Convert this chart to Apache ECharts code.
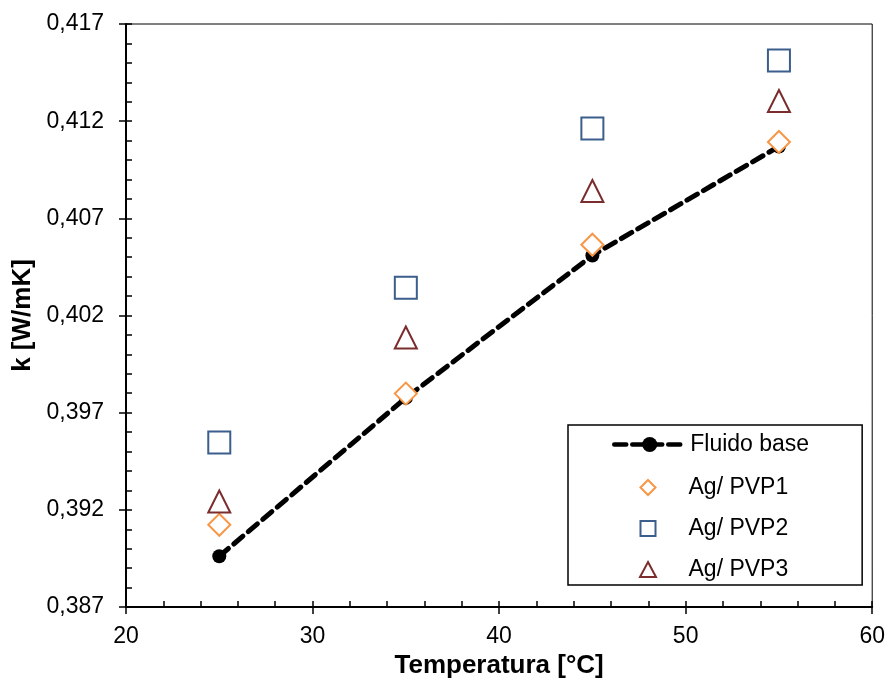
<!DOCTYPE html>
<html><head><meta charset="utf-8">
<script src="https://cdn.jsdelivr.net/npm/echarts@6/dist/echarts.min.js"></script>
<style>html,body{margin:0;padding:0;background:#fff}#c{width:888px;height:684px}</style>
</head><body><div id="c"></div>
<script>
const temperatures = [25, 35, 45, 55];
const fluidoBase = [0.38961, 0.39776, 0.40509, 0.41070];
const agPVP1 = [0.39123, 0.39798, 0.40564, 0.41093];
const agPVP2 = [0.39546, 0.40343, 0.41162, 0.41512];
const agPVP3 = [0.39243, 0.40087, 0.40841, 0.41304];
const xTicks = [20, 30, 40, 50, 60];
const yTicks = [0.387, 0.392, 0.397, 0.402, 0.407, 0.412, 0.417];
const seriesNames = ['Fluido base', 'Ag/ PVP1', 'Ag/ PVP2', 'Ag/ PVP3'];
const xTitle = 'Temperatura [°C]';
const yTitle = 'k [W/mK]';

const FONT = 'Liberation Sans, Arial, sans-serif';
const pts = arr => temperatures.map((t, i) => [t, arr[i]]);

const chart = echarts.init(document.getElementById('c'), null, {renderer: 'canvas'});
const tickStyle = {color: '#000', width: 1.5};
chart.setOption({
  animation: false,
  backgroundColor: '#fff',
  grid: {left: 126, top: 24, width: 747, height: 585, show: true, borderColor: '#000', borderWidth: 1, backgroundColor: 'transparent'},
  xAxis: [{
    type: 'value', min: xTicks[0], max: xTicks[xTicks.length - 1], interval: 10,
    position: 'bottom',
    name: xTitle, nameLocation: 'middle', nameGap: 46,
    nameTextStyle: {fontFamily: FONT, fontSize: 26, fontWeight: 'bold', color: '#000'},
    axisLine: {show: true, onZero: false, lineStyle: {color: '#000', width: 2}},
    axisTick: {show: true, inside: false, length: 7, lineStyle: tickStyle},
    axisLabel: {fontFamily: FONT, fontSize: 23, color: '#000', margin: 18},
    splitLine: {show: false}
  }, {
    type: 'value', min: xTicks[0], max: xTicks[xTicks.length - 1], interval: 2,
    position: 'bottom',
    axisLine: {show: false},
    axisTick: {show: true, inside: true, length: 6, lineStyle: tickStyle},
    axisLabel: {show: false},
    splitLine: {show: false}
  }],
  yAxis: [{
    type: 'value', min: yTicks[0], max: yTicks[yTicks.length - 1],
    position: 'left',
    name: yTitle, nameLocation: 'middle', nameGap: 90, nameRotate: 90,
    nameTextStyle: {fontFamily: FONT, fontSize: 26, fontWeight: 'bold', color: '#000'},
    axisLine: {show: true, onZero: false, lineStyle: {color: '#000', width: 2}},
    axisTick: {show: true, inside: false, length: 7, lineStyle: tickStyle, customValues: yTicks},
    axisLabel: {fontFamily: FONT, fontSize: 23, color: '#000', margin: 22, customValues: yTicks,
      formatter: v => v.toFixed(3).replace('.', ',')},
    splitLine: {show: false}
  }, {
    type: 'value', min: yTicks[0], max: yTicks[yTicks.length - 1], interval: 0.001,
    position: 'left',
    axisLine: {show: false},
    axisTick: {show: true, inside: true, length: 6, lineStyle: tickStyle},
    axisLabel: {show: false},
    splitLine: {show: false}
  }],
  legend: [{
    selectedMode: false,
    orient: 'vertical', left: 568, top: 425,
    data: [seriesNames[0]],
    itemWidth: 71, itemHeight: 19, itemGap: 10,
    padding: [8, 53, 129, 44],
    borderColor: '#000', borderWidth: 1.5, backgroundColor: '#fff',
    textStyle: {fontFamily: FONT, fontSize: 23, color: '#000'},
    lineStyle: {width: 4.5, type: [12, 6], cap: 'round', color: '#000'},
    z: 5
  }, {
    selectedMode: false,
    orient: 'vertical', left: 639, top: 476,
    data: [
      {name: seriesNames[1], icon: 'path://M8,0L16,8L8,16L0,8Z'},
      {name: seriesNames[2], icon: 'path://M0,0L14,0L14,14L0,14Z'},
      {name: seriesNames[3], icon: 'path://M8,0L16,15L0,15Z'}
    ],
    itemWidth: 71, itemHeight: 15, itemGap: 18,
    symbolKeepAspect: true,
    padding: 0,
    textStyle: {fontFamily: FONT, fontSize: 23, color: '#000'},
    z: 6
  }],
  series: [{
    name: seriesNames[0], type: 'line', xAxisIndex: 0, yAxisIndex: 0,
    data: pts(fluidoBase),
    symbol: 'circle', symbolSize: 14,
    itemStyle: {color: '#000'},
    lineStyle: {color: '#000', width: 5, type: [12, 7], cap: 'round'},
    z: 2
  }, {
    name: seriesNames[1], type: 'scatter', xAxisIndex: 0, yAxisIndex: 0,
    data: pts(agPVP1), symbol: 'diamond', symbolSize: 22,
    itemStyle: {color: '#fff', borderColor: '#F79646', borderWidth: 2, opacity: 1},
    z: 3
  }, {
    name: seriesNames[2], type: 'scatter', xAxisIndex: 0, yAxisIndex: 0,
    data: pts(agPVP2), symbol: 'rect', symbolSize: 22,
    itemStyle: {color: '#fff', borderColor: '#3B5E8C', borderWidth: 2, opacity: 1},
    z: 3
  }, {
    name: seriesNames[3], type: 'scatter', xAxisIndex: 0, yAxisIndex: 0,
    data: pts(agPVP3), symbol: 'triangle', symbolSize: 22,
    itemStyle: {color: '#fff', borderColor: '#7B2C2C', borderWidth: 2, opacity: 1},
    z: 3
  }]
});
</script>
</body></html>
